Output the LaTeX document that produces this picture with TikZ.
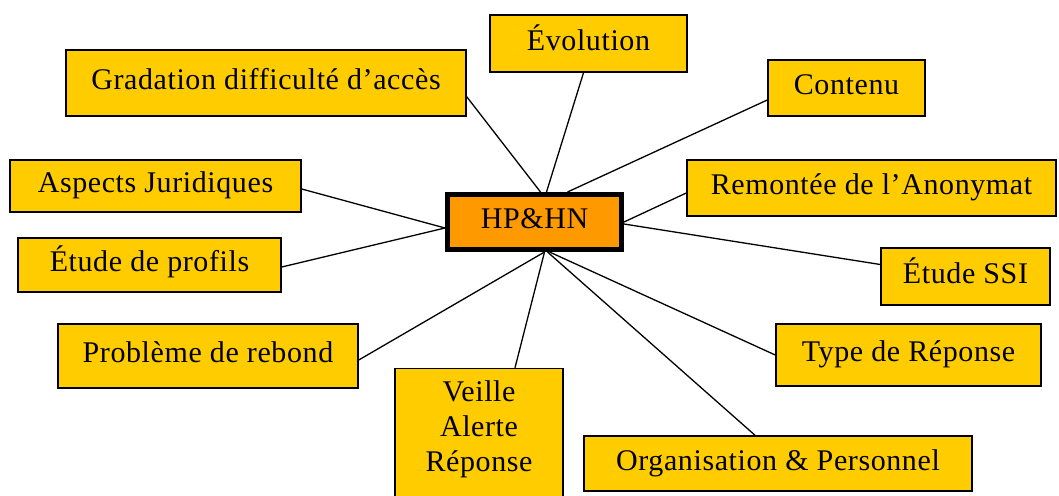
\documentclass[tikz,border=0pt]{standalone}
\usepackage{fontspec}
\setmainfont{Liberation Serif}[LetterSpace=2]
\definecolor{boxyellow}{RGB}{255,204,0}
\definecolor{hporange}{RGB}{255,153,0}
\begin{document}
\begin{tikzpicture}[x=1pt,y=-1pt,
  box/.style={draw=black, fill=boxyellow, line width=1.5pt, inner sep=0pt,
    font=\fontsize{30}{35}\selectfont, text height=21pt, text depth=7.5pt},
  hub/.style={box, fill=hporange, line width=5pt},
  txt/.style={inner sep=0pt, font=\fontsize{30}{35}\selectfont, align=center},
  link/.style={line width=1.3pt}]
\clip (0,0) rectangle (1059,495);
\fill[white] (0,0) rectangle (1059,495);

\node[hub, minimum width=174pt, minimum height=55pt] (hp) at (534.5,222) {HP\&HN};

\node[box, minimum width=400pt, minimum height=66pt] (grad) at (266,83) {Gradation difficulté d’accès};
\node[box, minimum width=197pt, minimum height=57pt] (evo) at (588.5,43.5) {Évolution};
\node[box, minimum width=157pt, minimum height=56pt] (cont) at (846.5,88) {Contenu};
\node[box, minimum width=369pt, minimum height=56pt] (rem) at (871.5,188) {Remontée de l’Anonymat};
\node[box, minimum width=291pt, minimum height=52pt] (asp) at (155.5,186) {Aspects Juridiques};
\node[box, minimum width=263pt, minimum height=54pt] (prof) at (149.5,265) {Étude de profils};
\node[box, minimum width=169pt, minimum height=57pt] (ssi) at (965.5,276.5) {Étude SSI};
\node[box, minimum width=300pt, minimum height=64pt] (reb) at (208,356) {Problème de rebond};
\node[box, minimum width=265pt, minimum height=62pt] (type) at (908.5,355) {Type de Réponse};
\node[box, minimum width=168pt, minimum height=160pt, anchor=north] (veille) at (479,367.75) {};
\node[txt] (veilleT) at (479,429) {Veille\\Alerte\\Réponse};
\node[box, minimum width=388pt, minimum height=55pt] (org) at (778,463.5) {Organisation \& Personnel};

\draw[link] ([yshift=20pt]grad.south east) -- ([xshift=6pt]hp.north);
\draw[link] ([xshift=-5pt]evo.south) -- ([xshift=12pt]hp.north);
\draw[link] ([yshift=-12pt]cont.west) -- ([xshift=33pt]hp.north);
\draw[link] ([yshift=-5pt]rem.west) -- (hp.east);
\draw[link] ([yshift=-2pt]hp.east) -- ([yshift=12pt]ssi.west);
\draw[link] ([xshift=15pt]hp.south) -- (type.west);
\draw[link] ([xshift=13pt]hp.south) -- ([xshift=-23pt]org.north);
\draw[link] ([xshift=10pt]hp.south) -- ([xshift=36pt]veille.north);
\draw[link] ([yshift=-4pt]reb.east) -- ([xshift=10pt]hp.south);
\draw[link] ([yshift=-2pt]prof.east) -- ([yshift=-6pt]hp.west);
\draw[link] ([yshift=-3pt]asp.east) -- ([yshift=-6pt]hp.west);
\end{tikzpicture}
\end{document}
